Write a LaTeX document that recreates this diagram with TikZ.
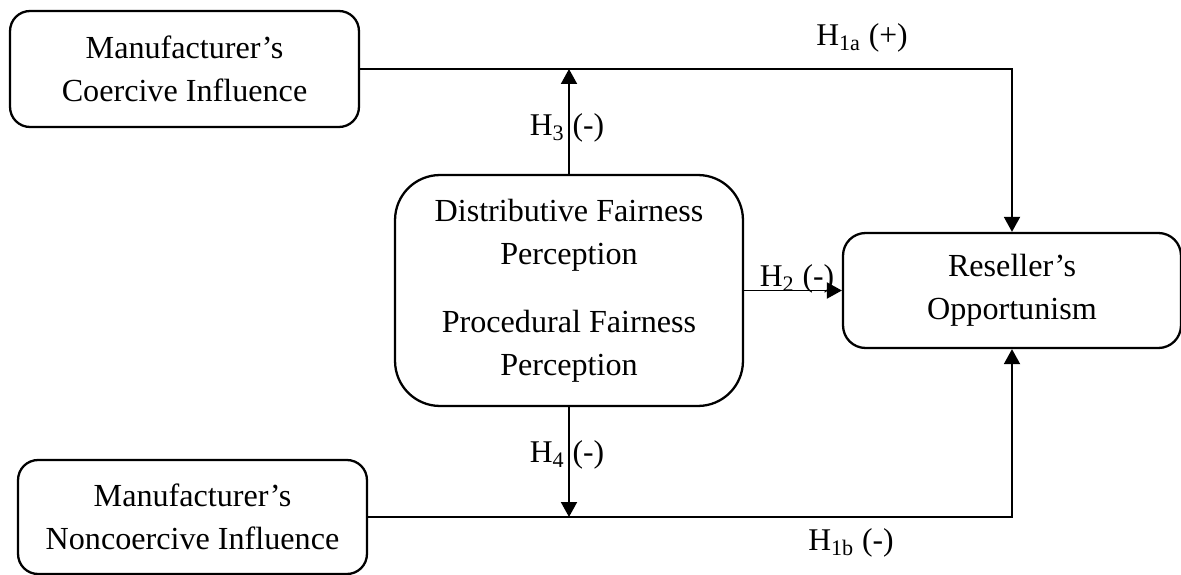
\documentclass[tikz,border=0pt]{standalone}
\usepackage{fontspec}
\setmainfont{Liberation Serif}
\usetikzlibrary{arrows.meta}
\begin{document}
\begin{tikzpicture}[x=0.02cm,y=-0.02cm]

    \tikzset{
      factor/.style={
        draw,
        line width=1.3pt,
        align=center,
        inner sep=0pt,
        font=\fontsize{18.3}{24.5}\selectfont,
      },
      link/.style={
        line width=1.1pt,
        -{Triangle[length=0.3cm,width=0.32cm]},
      },
      hyp/.style={
        inner sep=0pt,
        font=\fontsize{18}{20}\selectfont,
      },
    }
    \useasboundingbox (0,0) rectangle (1181,575);
	\node[factor, rounded corners=0.4cm, minimum width=6.98cm, minimum height=2.32cm] (coercive) at (184.5,69) {Manufacturer’s\\Coercive Influence};
	\node[factor, rounded corners=0.4cm, minimum width=6.98cm, minimum height=2.28cm] (noncoercive) at (192.5,517) {Manufacturer’s\\Noncoercive Influence};
	\node[factor, rounded corners=0.9cm, minimum width=6.96cm, minimum height=4.62cm] (fair) at (569,290.5) {Distributive Fairness\\Perception\\[0.5cm]Procedural Fairness\\Perception};
	\node[factor, rounded corners=0.45cm, minimum width=6.76cm, minimum height=2.3cm] (reseller) at (1012,290.5) {Reseller’s\\Opportunism};

	\draw[link] (coercive.east) -| (reseller.north);
	\draw[link] (noncoercive.east) -| (reseller.south);
	\draw[link] (fair.north) -- (fair.north |- coercive.east);
	\draw[link] (fair.south) -- (fair.south |- noncoercive.east);
	\draw[link] (fair.east) -- (reseller.west);

	\node[hyp] (h1a) at (862,38) {H\textsubscript{1a} (+)};
	\node[hyp] (h1b) at (851,543) {H\textsubscript{1b} (-)};
	\node[hyp] (h3) at (567,128) {H\textsubscript{3} (-)};
	\node[hyp] (h4) at (567,455) {H\textsubscript{4} (-)};
	\node[hyp] (h2) at (797,279) {H\textsubscript{2} (-)};

\end{tikzpicture}
\end{document}
